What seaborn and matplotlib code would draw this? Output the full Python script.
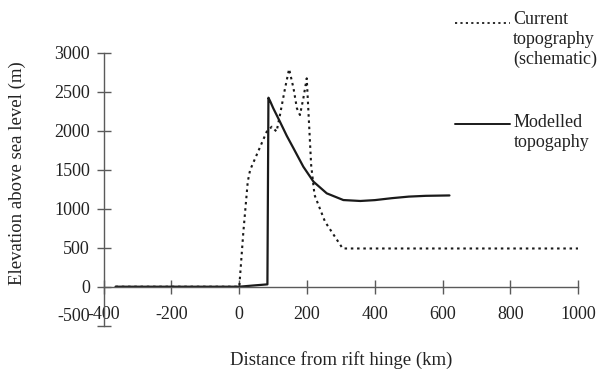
import numpy as np
import pandas as pd
import matplotlib
matplotlib.use("Agg")
import matplotlib.pyplot as plt
from matplotlib.lines import Line2D
from matplotlib.transforms import ScaledTranslation
import seaborn as sns

# ---- data ----
model_x = [-365, -300, -200, -100, 0, 40, 83, 86, 92, 100, 120, 140, 160, 189, 219, 258,
           307, 357, 400, 450, 500, 550, 620]
model_y = [0, 0, 0, 0, 0, 15, 30, 2423, 2370, 2290, 2115, 1935, 1774, 1538, 1346, 1197,
           1111, 1099, 1110, 1135, 1155, 1165, 1170]

current_x = [-365, -200, 0, 12, 25, 32, 81, 96, 110, 120, 135, 147, 160, 170, 179,
             189, 199, 212, 222, 253, 305, 1000]
current_y = [0, 0, 0, 700, 1346, 1496, 1988, 2051, 1988, 2201, 2543, 2791, 2543,
             2287, 2201, 2415, 2671, 1560, 1176, 833, 490, 490]

x_ticks = [-400, -200, 0, 200, 400, 600, 800, 1000]
y_ticks = [-500, 0, 500, 1000, 1500, 2000, 2500, 3000]

label_current = "Current\ntopography\n(schematic)"
label_model = "Modelled\ntopogaphy"

# ---- styling ----
sns.set_style("white")
plt.rcParams['font.family'] = ['Liberation Serif', 'DejaVu Serif']
FS = 13
axis_col = "#5a5a5a"
line_col = "#1a1a1a"
text_col = "#222222"

fig = plt.figure(figsize=(6.12, 3.70), dpi=100)
ax = fig.add_axes([0.1694, 0.1197, 0.7755, 0.7379])

df_m = pd.DataFrame({"x": model_x, "y": model_y})
df_c = pd.DataFrame({"x": current_x, "y": current_y})

sns.lineplot(data=df_c, x="x", y="y", sort=False, estimator=None, ax=ax,
             color=line_col, lw=1.5, linestyle=(0, (1.2, 1.8)))
sns.lineplot(data=df_m, x="x", y="y", sort=False, estimator=None, ax=ax,
             color=line_col, lw=1.6)

ax.set_xlim(-400, 1000)
ax.set_ylim(-500, 3000)
ax.set_xticks(x_ticks)
ax.set_yticks(y_ticks)
ax.set_xticklabels([str(v) for v in x_ticks])
ax.set_yticklabels([str(v) for v in y_ticks])

for s in ["top", "right"]:
    ax.spines[s].set_visible(False)
ax.spines["bottom"].set_position(("data", 0))
for s in ["left", "bottom"]:
    ax.spines[s].set_color(axis_col)
    ax.spines[s].set_linewidth(1.0)

ax.tick_params(axis="both", which="major", bottom=True, left=True,
               direction="inout", length=10, width=1.0,
               color=axis_col, labelsize=FS, labelcolor=text_col)
ax.tick_params(axis="x", pad=9)
ax.tick_params(axis="y", pad=5)

ax.set_xlabel("Distance from rift hinge (km)", fontsize=FS + 0.5, color=text_col)
ax.set_ylabel("Elevation above sea level (m)", fontsize=FS + 0.5, color=text_col)
ax.xaxis.set_label_coords(0.5, -0.092)
ax.yaxis.set_label_coords(-0.163, 0.56)

# the lowest y tick label sits a little higher in the reference
low_lab = ax.yaxis.get_major_ticks()[0].label1
low_lab.set_transform(low_lab.get_transform() +
                      ScaledTranslation(0, 0.11, fig.dpi_scale_trans))

# ---- legend (drawn manually, outside the axes at top right) ----
W, H = 612.0, 370.0
def fx(px):
    return px / W
def fy(py):
    return 1 - py / H

fig.add_artist(Line2D([fx(455), fx(510)], [fy(23), fy(23)], transform=fig.transFigure,
                      color=line_col, lw=1.3, linestyle=(0, (1.2, 1.8))))
fig.text(fx(513), fy(11), label_current, fontsize=FS, va="top", ha="left",
         color=text_col, linespacing=1.2)
fig.add_artist(Line2D([fx(455), fx(510)], [fy(124), fy(124)], transform=fig.transFigure,
                      color=line_col, lw=1.4))
fig.text(fx(514), fy(114), label_model, fontsize=FS, va="top", ha="left",
         color=text_col, linespacing=1.2)

fig.savefig("out.png", dpi=100, facecolor="white")
